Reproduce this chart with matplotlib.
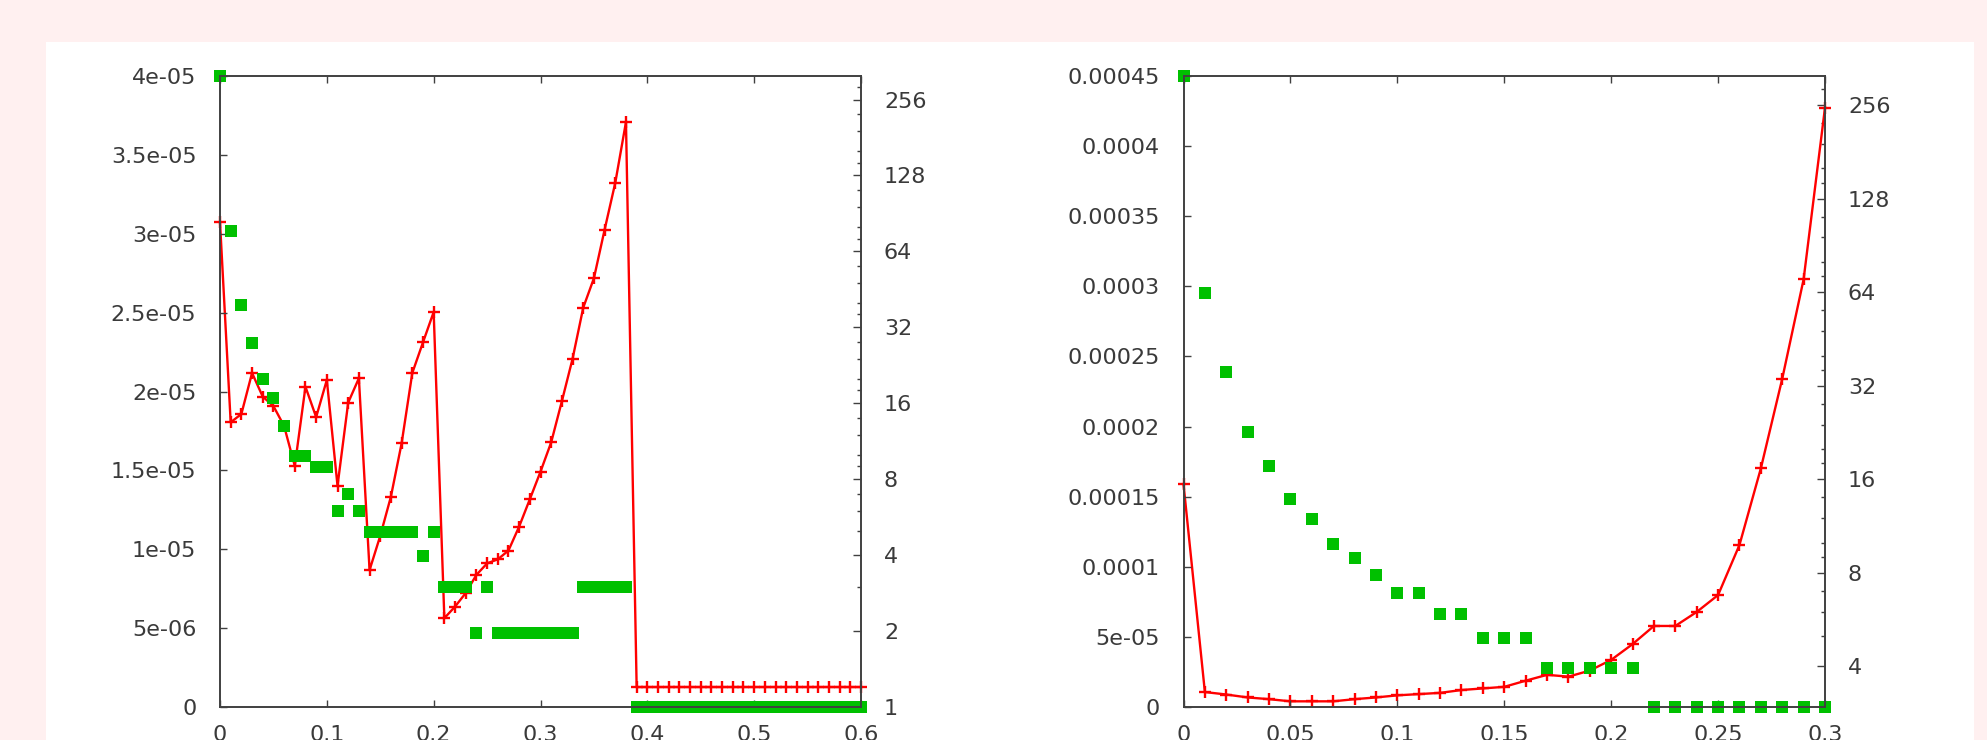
import matplotlib
matplotlib.use('Agg')
import matplotlib.pyplot as plt
from matplotlib.patches import Rectangle
from matplotlib.ticker import FixedLocator, NullFormatter

# ---------------- data ----------------
x_left = [0.00, 0.01, 0.02, 0.03, 0.04, 0.05, 0.06, 0.07, 0.08, 0.09,
          0.10, 0.11, 0.12, 0.13, 0.14, 0.15, 0.16, 0.17, 0.18, 0.19,
          0.20, 0.21, 0.22, 0.23, 0.24, 0.25, 0.26, 0.27, 0.28, 0.29,
          0.30, 0.31, 0.32, 0.33, 0.34, 0.35, 0.36, 0.37, 0.38, 0.39,
          0.40, 0.41, 0.42, 0.43, 0.44, 0.45, 0.46, 0.47, 0.48, 0.49,
          0.50, 0.51, 0.52, 0.53, 0.54, 0.55, 0.56, 0.57, 0.58, 0.59,
          0.60]
green_left = [4.0e-5, 3.02e-5, 2.55e-5, 2.31e-5, 2.08e-5, 1.96e-5, 1.78e-5, 1.59e-5, 1.59e-5, 1.52e-5,
              1.52e-5, 1.24e-5, 1.35e-5, 1.24e-5, 1.11e-5, 1.11e-5, 1.11e-5, 1.11e-5, 1.11e-5, 9.6e-6,
              1.11e-5, 7.6e-6, 7.6e-6, 7.6e-6, 4.7e-6, 7.6e-6, 4.7e-6, 4.7e-6, 4.7e-6, 4.7e-6,
              4.7e-6, 4.7e-6, 4.7e-6, 4.7e-6, 7.6e-6, 7.6e-6, 7.6e-6, 7.6e-6, 7.6e-6, 0,
              0, 0, 0, 0, 0, 0, 0, 0, 0, 0,
              0, 0, 0, 0, 0, 0, 0, 0, 0, 0,
              0]
red_left = [83.6, 13.45, 14.5, 21.1, 17.0, 15.6, 13.0, 9.03, 18.6, 14.1,
            19.8, 7.53, 16.1, 20.1, 3.49, 4.77, 6.83, 11.1, 21.1, 27.9,
            36.8, 2.25, 2.50, 2.83, 3.34, 3.71, 3.85, 4.17, 5.19, 6.66,
            8.57, 11.2, 16.3, 24.0, 38.3, 50.1, 78.0, 119.8, 208.4, 1.2,
            1.2, 1.2, 1.2, 1.2, 1.2, 1.2, 1.2, 1.2, 1.2, 1.2,
            1.2, 1.2, 1.2, 1.2, 1.2, 1.2, 1.2, 1.2, 1.2, 1.2,
            1.2]

x_right = [0.00, 0.01, 0.02, 0.03, 0.04, 0.05, 0.06, 0.07, 0.08, 0.09,
           0.10, 0.11, 0.12, 0.13, 0.14, 0.15, 0.16, 0.17, 0.18, 0.19,
           0.20, 0.21, 0.22, 0.23, 0.24, 0.25, 0.26, 0.27, 0.28, 0.29,
           0.30]
green_right = [4.5e-4, 2.95e-4, 2.39e-4, 1.96e-4, 1.72e-4, 1.48e-4, 1.34e-4, 1.16e-4, 1.06e-4, 9.4e-5,
               8.1e-5, 8.1e-5, 6.6e-5, 6.6e-5, 4.9e-5, 4.9e-5, 4.9e-5, 2.76e-5, 2.76e-5, 2.76e-5,
               2.76e-5, 2.76e-5, 0, 0, 0, 0, 0, 0, 0, 0,
               0]
red_right = [15.45, 3.31, 3.25, 3.18, 3.14, 3.09, 3.09, 3.09, 3.14, 3.18,
             3.23, 3.26, 3.29, 3.36, 3.40, 3.44, 3.60, 3.76, 3.71, 3.88,
             4.20, 4.72, 5.40, 5.40, 5.99, 6.79, 9.84, 17.35, 33.7, 70.4,
             251.0]

xticks_left = [0, 0.1, 0.2, 0.3, 0.4, 0.5, 0.6]
xticklabels_left = ['0', '0.1', '0.2', '0.3', '0.4', '0.5', '0.6']
yticks_left = [0, 5e-6, 1e-5, 1.5e-5, 2e-5, 2.5e-5, 3e-5, 3.5e-5, 4e-5]
yticklabels_left = ['0', '5e-06', '1e-05', '1.5e-05', '2e-05', '2.5e-05', '3e-05', '3.5e-05', '4e-05']
y2ticks_left = [1, 2, 4, 8, 16, 32, 64, 128, 256]

xticks_right = [0, 0.05, 0.1, 0.15, 0.2, 0.25, 0.3]
xticklabels_right = ['0', '0.05', '0.1', '0.15', '0.2', '0.25', '0.3']
yticks_right = [0, 5e-5, 1e-4, 1.5e-4, 2e-4, 2.5e-4, 3e-4, 3.5e-4, 4e-4, 4.5e-4]
yticklabels_right = ['0', '5e-05', '0.0001', '0.00015', '0.0002', '0.00025', '0.0003', '0.00035', '0.0004', '0.00045']
y2ticks_right = [4, 8, 16, 32, 64, 128, 256]

# ---------------- style ----------------
W, H = 1987, 740
AX_COLOR = '#404040'
TXT_COLOR = '#3a3a3a'
RED = '#ff0000'
GREEN = '#00c000'
FS = 16
plt.rcParams['font.family'] = ['DejaVu Sans']

fig = plt.figure(figsize=(W / 100, H / 100), dpi=100)
fig.patch.set_facecolor('#fff0f0')
fig.add_artist(Rectangle((46 / W, 0), (1974 - 46) / W, (H - 42) / H,
                         transform=fig.transFigure, facecolor='white',
                         edgecolor='none', zorder=-10))

minor_y2 = [3, 5, 6, 7] + [b * f for b in (8, 16, 32, 64, 128, 256)
                           for f in (1.125, 1.25, 1.5, 1.75)]


def panel(px0, px1, x, green, red, xlim, xt, xtl, y1lim, yt, ytl, y2lim, y2t):
    top, bottom = 76, 707
    rect = [px0 / W, (H - bottom) / H, (px1 - px0) / W, (bottom - top) / H]
    ax = fig.add_axes(rect)
    ax2 = ax.twinx()
    ax2.set_yscale('log', base=2)
    ax2.plot(x, red, color=RED, lw=1.7, marker='+', ms=8.5, mew=1.7, clip_on=False)
    ax.plot(x, green, ls='none', marker='s', ms=8.4, mew=0, color=GREEN, clip_on=False)
    ax.set_zorder(ax2.get_zorder() + 1)
    ax.patch.set_visible(False)

    ax.set_xlim(*xlim)
    ax2.set_xlim(*xlim)
    ax.set_ylim(*y1lim)
    ax2.set_ylim(*y2lim)

    ax.set_xticks(xt, xtl)
    ax.set_yticks(yt, ytl)
    ax2.set_yticks(y2t, [str(v) for v in y2t])
    mins = [m for m in minor_y2 if y2lim[0] <= m <= y2lim[1] and m not in y2t]
    ax2.yaxis.set_minor_locator(FixedLocator(mins))
    ax2.yaxis.set_minor_formatter(NullFormatter())

    for sp in ax.spines.values():
        sp.set_color(AX_COLOR)
        sp.set_linewidth(1.4)
    for sp in ax2.spines.values():
        sp.set_visible(False)

    ax.tick_params(axis='x', which='both', direction='in', top=True, bottom=True,
                   length=5, width=1, color=AX_COLOR, labelcolor=TXT_COLOR,
                   labelsize=FS, pad=13)
    ax.tick_params(axis='y', which='both', direction='in', left=True, right=False,
                   length=5, width=1, color=AX_COLOR, labelcolor=TXT_COLOR,
                   labelsize=FS, pad=17)
    ax2.tick_params(axis='y', which='major', direction='in', right=True, left=False,
                    length=5.5, width=1, color=AX_COLOR, labelcolor=TXT_COLOR,
                    labelsize=FS, pad=16.5)
    ax2.tick_params(axis='y', which='minor', direction='in', right=True, left=False,
                    length=3, width=1, color=AX_COLOR)
    return ax, ax2


panel(220, 861, x_left, green_left, red_left, (0, 0.6), xticks_left, xticklabels_left,
      (0, 4e-5), yticks_left, yticklabels_left, (1, 2 ** 8.31), y2ticks_left)
panel(1183.5, 1825, x_right, green_right, red_right, (0, 0.3), xticks_right, xticklabels_right,
      (0, 4.5e-4), yticks_right, yticklabels_right, (2 ** 1.567, 2 ** 8.31), y2ticks_right)

fig.savefig('out.png', dpi=100, facecolor=fig.get_facecolor())
